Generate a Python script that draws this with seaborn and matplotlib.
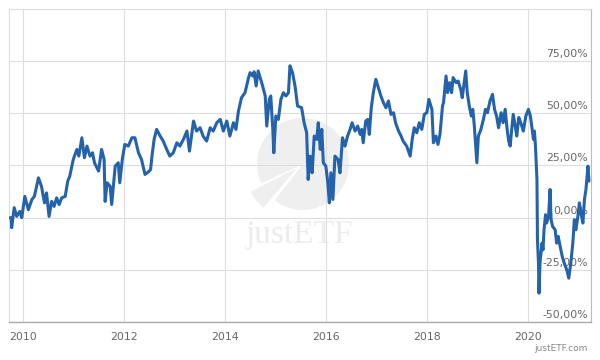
import matplotlib
matplotlib.use("Agg")
import matplotlib.pyplot as plt
import seaborn as sns
import pandas as pd
from matplotlib.patches import Wedge

# Performance series (decimal year, cumulative return in %)
years = [2009.74, 2009.76, 2009.77, 2009.82, 2009.87, 2009.93, 2009.97, 2010.03, 2010.10, 2010.17,
         2010.22, 2010.30, 2010.36, 2010.42, 2010.46, 2010.51, 2010.56, 2010.61, 2010.66, 2010.71,
         2010.76, 2010.83, 2010.88, 2010.92, 2010.99, 2011.06, 2011.10, 2011.16, 2011.21, 2011.26,
         2011.32, 2011.37, 2011.41, 2011.49, 2011.55, 2011.60, 2011.62, 2011.66, 2011.72, 2011.75,
         2011.82, 2011.88, 2011.91, 2011.96, 2012.01, 2012.08, 2012.15, 2012.21, 2012.28, 2012.34,
         2012.41, 2012.48, 2012.52, 2012.55, 2012.59, 2012.64, 2012.71, 2012.77, 2012.84, 2012.90,
         2012.97, 2013.04, 2013.10, 2013.17, 2013.24, 2013.29, 2013.37, 2013.43, 2013.50, 2013.56,
         2013.63, 2013.70, 2013.76, 2013.83, 2013.90, 2013.96, 2014.03, 2014.09, 2014.16, 2014.21,
         2014.26, 2014.32, 2014.39, 2014.46, 2014.49, 2014.54, 2014.57, 2014.61, 2014.65, 2014.72,
         2014.79, 2014.82, 2014.87, 2014.90, 2014.94, 2014.96, 2015.00, 2015.05, 2015.10, 2015.15,
         2015.20, 2015.25, 2015.28, 2015.33, 2015.38, 2015.43, 2015.51, 2015.56, 2015.61, 2015.64,
         2015.68, 2015.72, 2015.76, 2015.81, 2015.84, 2015.88, 2015.91, 2015.94, 2015.99, 2016.03,
         2016.06, 2016.09, 2016.13, 2016.17, 2016.23, 2016.27, 2016.32, 2016.37, 2016.42, 2016.47,
         2016.51, 2016.57, 2016.62, 2016.67, 2016.70, 2016.73, 2016.78, 2016.82, 2016.85, 2016.89,
         2016.93, 2016.98, 2017.03, 2017.08, 2017.13, 2017.18, 2017.23, 2017.28, 2017.33, 2017.37,
         2017.43, 2017.48, 2017.52, 2017.59, 2017.66, 2017.70, 2017.74, 2017.79, 2017.84, 2017.89,
         2017.94, 2017.99, 2018.03, 2018.09, 2018.12, 2018.17, 2018.21, 2018.25, 2018.30, 2018.32,
         2018.37, 2018.40, 2018.44, 2018.48, 2018.51, 2018.57, 2018.61, 2018.66, 2018.69, 2018.73,
         2018.76, 2018.79, 2018.83, 2018.87, 2018.90, 2018.93, 2018.98, 2019.01, 2019.06, 2019.11,
         2019.15, 2019.19, 2019.24, 2019.29, 2019.33, 2019.37, 2019.41, 2019.46, 2019.50, 2019.54,
         2019.58, 2019.61, 2019.64, 2019.67, 2019.70, 2019.74, 2019.77, 2019.81, 2019.85, 2019.90,
         2019.95, 2020.00, 2020.04, 2020.08, 2020.10, 2020.12, 2020.14, 2020.17, 2020.18, 2020.20,
         2020.21, 2020.23, 2020.27, 2020.29, 2020.31, 2020.34, 2020.36, 2020.40, 2020.43, 2020.45,
         2020.48, 2020.53, 2020.56, 2020.59, 2020.63, 2020.67, 2020.71, 2020.76, 2020.80, 2020.84,
         2020.88, 2020.91, 2020.94, 2020.98, 2021.01, 2021.04, 2021.08, 2021.11, 2021.14, 2021.18,
         2021.20]
returns = [0.0, 0.0, -4.8, 4.8, 0.6, 3.0, 0.0, 10.2, 3.8, 8.7,
           10.2, 19.1, 15.0, 7.1, 11.9, 0.6, 7.8, 5.4, 9.5, 6.3,
           9.5, 10.2, 17.5, 19.9, 27.9, 32.7, 29.5, 38.3, 28.7, 34.3,
           29.5, 31.1, 26.3, 22.3, 32.7, 27.9, 7.8, 16.7, 15.0, 6.3,
           24.7, 26.3, 16.7, 27.9, 35.1, 34.3, 38.3, 38.3, 31.1, 27.9,
           20.7, 22.0, 23.0, 30.0, 37.5, 42.3, 39.1, 36.7, 32.7, 29.5,
           31.1, 35.9, 34.3, 37.5, 41.5, 31.9, 46.3, 41.5, 43.1, 39.1,
           36.7, 43.1, 41.5, 45.5, 47.1, 41.5, 46.3, 39.1, 45.5, 42.3,
           51.1, 57.5, 59.9, 67.1, 69.5, 67.9, 69.9, 63.1, 70.3, 64.7,
           58.3, 43.9, 56.7, 58.3, 42.3, 31.1, 48.7, 47.1, 56.7, 59.9,
           58.3, 59.9, 72.8, 69.5, 63.1, 53.5, 52.7, 45.5, 40.7, 18.3,
           29.5, 21.5, 39.1, 37.5, 45.5, 32.7, 42.3, 26.3, 24.7, 16.7,
           7.1, 21.5, 8.7, 29.5, 27.9, 21.5, 38.3, 34.3, 39.1, 42.3,
           45.5, 41.5, 43.9, 39.9, 42.3, 35.9, 46.3, 47.1, 39.9, 52.7,
           59.9, 66.3, 62.3, 58.3, 55.1, 52.7, 55.9, 49.5, 50.3, 45.5,
           41.5, 39.1, 36.7, 34.3, 29.5, 37.5, 43.1, 40.7, 45.5, 42.3,
           49.5, 50.3, 56.7, 51.9, 35.9, 39.1, 35.1, 40.0, 53.5, 55.1,
           67.9, 59.9, 64.7, 59.9, 67.1, 64.7, 65.5, 61.5, 57.5, 64.7,
           70.3, 59.9, 53.5, 48.7, 51.9, 43.9, 26.3, 39.1, 42.3, 47.1,
           51.9, 50.3, 55.9, 59.1, 51.9, 48.7, 43.1, 50.3, 45.5, 51.9,
           42.3, 36.7, 34.3, 42.3, 49.5, 43.9, 39.1, 48.0, 45.5, 41.5,
           48.7, 51.9, 48.7, 41.5, 37.5, 41.5, 34.3, 18.3, -10.6, -21.8,
           -36.2, -21.8, -12.2, -15.4, -5.8, 1.4, -2.6, 0.6, 13.5, -1.0,
           -4.2, -5.8, -12.2, -9.0, -13.8, -18.6, -21.8, -25.0, -29.0, -21.8,
           -12.2, -1.0, -5.8, 0.6, 7.1, 2.3, -2.6, 8.7, 13.5, 24.7,
           17.5]

x_ticks = [2010, 2012, 2014, 2016, 2018, 2020]
y_ticks = [-50, -25, 0, 25, 50, 75]
y_labels = ["-50,00%", "-25,00%", "0,00%", "25,00%", "50,00%", "75,00%"]

df = pd.DataFrame({"year": years, "ret": returns})

sns.set_style("white")
plt.rcParams["font.family"] = ["DejaVu Sans"]

fig = plt.figure(figsize=(6, 3.6), dpi=100)
ax = fig.add_axes([0.015, 0.1056, 0.97, 0.8694])

# watermark logo
cx, cy, r = 3.03, 1.96, 0.46
ax.add_patch(Wedge((cx, cy), r, 232, 205, facecolor="#efefef", edgecolor="none",
                   transform=fig.dpi_scale_trans, zorder=0.2))
ax.add_patch(Wedge((cx - 0.06, cy - 0.04), r + 0.06, 207, 230, facecolor="#efefef",
                   edgecolor="none", transform=fig.dpi_scale_trans, zorder=0.2))
ax.text(3.0, 1.25, "justETF", family="Liberation Serif", fontsize=24, color="#ececec",
        ha="center", va="center", transform=fig.dpi_scale_trans, zorder=0.2)

sns.lineplot(data=df, x="year", y="ret", ax=ax, color="#2462ab", linewidth=2.2, zorder=3)

ax.set_xlim(2009.717, 2021.24)
ax.set_ylim(-50, 100)
ax.set_xticks(x_ticks)
ax.set_xticklabels([str(t) for t in x_ticks])
ax.set_yticks(y_ticks + [100])
ax.set_yticklabels([])
ax.tick_params(axis="both", length=0)
ax.tick_params(axis="x", pad=7.5, labelsize=7.8, labelcolor="#666666")
ax.set_axisbelow(True)
ax.grid(True, color="#dddddd", linewidth=0.8)
ax.set_xlabel("")
ax.set_ylabel("")

for spine in ["left", "top"]:
    ax.spines[spine].set_color("#dddddd")
    ax.spines[spine].set_linewidth(0.8)
ax.spines["bottom"].set_color("#aaaaaa")
ax.spines["bottom"].set_linewidth(1.0)
ax.spines["right"].set_color("#bbbbbb")
ax.spines["right"].set_linewidth(0.8)

# y labels drawn inside the plot at the right, just above each gridline
for v, lab in zip(y_ticks, y_labels):
    ax.text(0.995, v + 1.0, lab, transform=ax.get_yaxis_transform(), ha="right",
            va="bottom", fontsize=7.8, color="#666666", zorder=2)

fig.text(0.98, 0.02, "justETF.com", ha="right", va="bottom", fontsize=6.5, color="#888888")

fig.savefig("out.png", dpi=100)
